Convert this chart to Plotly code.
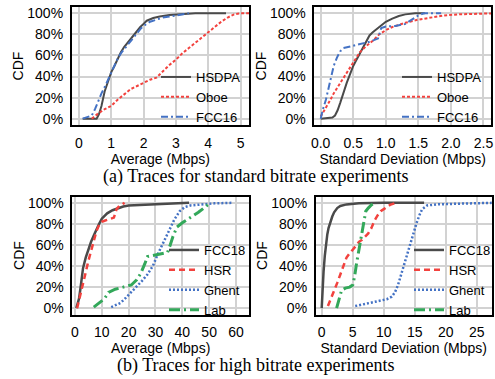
import plotly.graph_objects as go

# ---------- data ----------
# (a) standard bitrate: average throughput (Mbps)
hsdpa_avg_x = [0.12, 0.55, 0.62, 0.7, 0.8, 0.9, 1.0, 1.1, 1.2, 1.3, 1.4, 1.5, 1.6, 1.7, 1.8, 1.9, 2.0, 2.1, 2.3, 2.5, 2.8, 3.2, 3.6, 4.55]
hsdpa_avg_y = [0.0, 0.0, 0.04, 0.12, 0.26, 0.36, 0.44, 0.50, 0.57, 0.63, 0.68, 0.72, 0.75, 0.79, 0.84, 0.87, 0.90, 0.93, 0.955, 0.97, 0.985, 0.995, 1.0, 1.0]
oboe_avg_x = [0.4, 0.6, 0.8, 1.0, 1.2, 1.4, 1.6, 1.8, 2.0, 2.2, 2.4, 2.6, 2.8, 3.0, 3.2, 3.4, 3.6, 3.8, 4.0, 4.2, 4.4, 4.6, 4.8, 5.0, 5.3]
oboe_avg_y = [0.0, 0.05, 0.09, 0.12, 0.18, 0.23, 0.28, 0.31, 0.34, 0.37, 0.39, 0.45, 0.51, 0.56, 0.62, 0.67, 0.72, 0.77, 0.82, 0.87, 0.92, 0.96, 0.99, 1.0, 1.0]
fcc16_avg_x = [0.12, 0.4, 0.5, 0.6, 0.7, 0.8, 0.9, 1.0, 1.1, 1.2, 1.3, 1.4, 1.5, 1.6, 1.7, 1.8, 1.9, 2.0, 2.2, 2.4, 2.6, 2.8, 3.0, 3.4]
fcc16_avg_y = [0.0, 0.03, 0.09, 0.17, 0.24, 0.30, 0.37, 0.44, 0.51, 0.57, 0.62, 0.66, 0.70, 0.74, 0.78, 0.81, 0.85, 0.88, 0.92, 0.94, 0.96, 0.97, 0.98, 1.0]

# (a) standard bitrate: standard deviation (Mbps)
hsdpa_sd_x = [0.0, 0.18, 0.22, 0.26, 0.30, 0.35, 0.40, 0.45, 0.50, 0.55, 0.60, 0.65, 0.70, 0.75, 0.80, 0.90, 1.00, 1.10, 1.20, 1.30, 1.45, 1.6]
hsdpa_sd_y = [0.0, 0.01, 0.03, 0.08, 0.15, 0.25, 0.34, 0.42, 0.50, 0.56, 0.62, 0.67, 0.74, 0.79, 0.82, 0.87, 0.92, 0.95, 0.975, 0.99, 1.0, 1.0]
oboe_sd_x = [0.0, 0.05, 0.1, 0.15, 0.2, 0.3, 0.4, 0.5, 0.6, 0.7, 0.8, 0.9, 1.0, 1.1, 1.2, 1.3, 1.5, 1.7, 1.9, 2.1, 2.4, 2.65]
oboe_sd_y = [0.02, 0.07, 0.12, 0.18, 0.24, 0.34, 0.44, 0.54, 0.63, 0.69, 0.74, 0.80, 0.84, 0.87, 0.89, 0.91, 0.94, 0.96, 0.98, 0.99, 0.995, 1.0]
fcc16_sd_x = [0.0, 0.03, 0.08, 0.12, 0.16, 0.2, 0.25, 0.3, 0.35, 0.45, 0.6, 0.75, 0.88, 0.93, 1.0, 1.15, 1.3, 1.4, 1.5, 1.58, 1.85]
fcc16_sd_y = [0.0, 0.08, 0.18, 0.28, 0.40, 0.50, 0.58, 0.64, 0.67, 0.685, 0.71, 0.73, 0.76, 0.86, 0.875, 0.88, 0.90, 0.94, 0.98, 1.0, 1.0]

# (b) high bitrate: average throughput (Mbps)
fcc18_avg_x = [0.5, 1.0, 1.5, 2.0, 2.5, 3.0, 4.0, 5.0, 6.0, 7.0, 8.0, 9.0, 10.0, 11.0, 12.0, 14.0, 16.0, 18.0, 20.0, 25.0, 30.0, 35.0, 38.0, 42.5]
fcc18_avg_y = [0.0, 0.04, 0.09, 0.18, 0.30, 0.38, 0.48, 0.56, 0.63, 0.69, 0.75, 0.80, 0.85, 0.88, 0.90, 0.93, 0.95, 0.965, 0.975, 0.98, 0.99, 0.995, 1.0, 1.0]
hsr_avg_x = [0.8, 1.5, 2.0, 3.0, 4.0, 5.0, 6.0, 7.0, 8.0, 9.0, 10.0, 11.0, 13.0, 14.5, 15.0, 15.5, 16.5, 18.5]
hsr_avg_y = [0.0, 0.07, 0.12, 0.23, 0.34, 0.45, 0.55, 0.64, 0.73, 0.79, 0.82, 0.83, 0.85, 0.86, 0.90, 0.94, 0.97, 1.0]
ghent_avg_x = [13.5, 15, 17, 19, 21, 23, 25, 27, 29, 31, 33, 35, 37, 39, 41, 43, 47, 52, 58.5]
ghent_avg_y = [0.01, 0.025, 0.05, 0.1, 0.15, 0.21, 0.26, 0.32, 0.40, 0.52, 0.63, 0.73, 0.84, 0.92, 0.96, 0.975, 0.985, 0.995, 1.0]
lab_avg_x = [7, 9, 11, 12.5, 15, 18, 21, 23, 24.5, 26, 27, 29, 32, 34.5, 35.5, 36.5, 38, 40, 43, 46, 49.5]
lab_avg_y = [0.01, 0.05, 0.09, 0.15, 0.18, 0.20, 0.22, 0.27, 0.33, 0.42, 0.49, 0.50, 0.52, 0.53, 0.60, 0.68, 0.77, 0.81, 0.86, 0.91, 0.98]

# (b) high bitrate: standard deviation (Mbps)
fcc18_sd_x = [0.0, 0.1, 0.3, 0.5, 0.7, 0.9, 1.1, 1.4, 1.7, 2.0, 2.5, 3.0, 4.0, 6.0, 10.0, 16.5]
fcc18_sd_y = [0.0, 0.15, 0.35, 0.50, 0.62, 0.70, 0.76, 0.82, 0.87, 0.91, 0.95, 0.97, 0.985, 0.995, 1.0, 1.0]
hsr_sd_x = [1.0, 1.5, 2.0, 2.5, 3.0, 3.5, 4.0, 4.5, 5.0, 5.5, 6.0, 6.5, 7.0, 7.5, 8.0, 8.5, 9.0, 9.5, 10.0, 11.0, 12.0]
hsr_sd_y = [0.02, 0.09, 0.16, 0.24, 0.32, 0.41, 0.48, 0.52, 0.55, 0.59, 0.63, 0.65, 0.68, 0.71, 0.76, 0.83, 0.88, 0.92, 0.94, 0.98, 1.0]
ghent_sd_x = [5.4, 7.0, 9.0, 10.5, 11.3, 11.8, 12.3, 12.8, 13.3, 13.8, 14.3, 14.8, 15.3, 15.8, 16.2, 17.0, 18.5, 21.0, 24.0, 27.5]
ghent_sd_y = [0.02, 0.04, 0.065, 0.085, 0.11, 0.15, 0.22, 0.32, 0.42, 0.52, 0.62, 0.72, 0.81, 0.89, 0.94, 0.975, 0.985, 0.99, 0.995, 1.0]
lab_sd_x = [2.4, 2.8, 3.2, 3.8, 4.5, 5.0, 5.3, 5.6, 5.9, 6.2, 6.5, 6.8, 7.1, 7.5, 8.0, 8.6]
lab_sd_y = [0.0, 0.10, 0.17, 0.19, 0.20, 0.22, 0.30, 0.42, 0.52, 0.62, 0.72, 0.82, 0.92, 0.95, 0.98, 1.0]

y_ticks = [0, 0.2, 0.4, 0.6, 0.8, 1.0]
x_ticks_a_avg = [0, 1, 2, 3, 4, 5]
x_ticks_a_sd = [0.0, 0.5, 1.0, 1.5, 2.0, 2.5]
x_ticks_b_avg = [0, 10, 20, 30, 40, 50, 60]
x_ticks_b_sd = [0, 5, 10, 15, 20, 25]

caption_a = "(a) Traces for standard bitrate experiments"
caption_b = "(b) Traces for high bitrate experiments"

# ---------- styles ----------
GRAY = "#4a4a4a"
RED = "#f2423e"
BLUE = "#4472c4"
GREEN = "#33a85a"
FONT = "Liberation Sans, Arial, sans-serif"
SERIF = "Liberation Serif, Times New Roman, serif"

fig = go.Figure()

def add(x, y, name, color, dash, width, ax, leg):
    fig.add_trace(go.Scatter(
        x=x, y=y, name=name, mode="lines",
        line=dict(color=color, dash=dash, width=width),
        xaxis="x" + ax, yaxis="y" + ax, legend=leg,
    ))

# subplot 1 (top-left)
add(hsdpa_avg_x, hsdpa_avg_y, "HSDPA", GRAY, "solid", 2, "", "legend")
add(oboe_avg_x, oboe_avg_y, "Oboe", RED, "3px,2px", 2, "", "legend")
add(fcc16_avg_x, fcc16_avg_y, "FCC16", BLUE, "7px,3px,2px,3px", 2, "", "legend")
# subplot 2 (top-right)
add(hsdpa_sd_x, hsdpa_sd_y, "HSDPA", GRAY, "solid", 2, "2", "legend2")
add(oboe_sd_x, oboe_sd_y, "Oboe", RED, "3px,2px", 2, "2", "legend2")
add(fcc16_sd_x, fcc16_sd_y, "FCC16", BLUE, "7px,3px,2px,3px", 2, "2", "legend2")
# subplot 3 (bottom-left)
add(fcc18_avg_x, fcc18_avg_y, "FCC18", GRAY, "solid", 2.5, "3", "legend3")
add(hsr_avg_x, hsr_avg_y, "HSR", RED, "6px,4px", 2.5, "3", "legend3")
add(ghent_avg_x, ghent_avg_y, "Ghent", BLUE, "2px,2px", 2.5, "3", "legend3")
add(lab_avg_x, lab_avg_y, "Lab", GREEN, "11px,4px,2px,4px", 3, "3", "legend3")
# subplot 4 (bottom-right)
add(fcc18_sd_x, fcc18_sd_y, "FCC18", GRAY, "solid", 2.5, "4", "legend4")
add(hsr_sd_x, hsr_sd_y, "HSR", RED, "6px,4px", 2.5, "4", "legend4")
add(ghent_sd_x, ghent_sd_y, "Ghent", BLUE, "2px,2px", 2.5, "4", "legend4")
add(lab_sd_x, lab_sd_y, "Lab", GREEN, "11px,4px,2px,4px", 3, "4", "legend4")

W, H = 495, 379

def px_x(p):
    return p / W

def px_y(p):
    return 1 - p / H

axis_common = dict(
    showline=True, linecolor="black", linewidth=1.6, mirror=True,
    showgrid=True, gridcolor="#d2d2d2", gridwidth=1.5,
    zeroline=False, ticks="", ticklabelstandoff=4,
    tickfont=dict(family=FONT, size=14, color="black"),
)

def xaxis(dom, rng, ticks, title, fmt=None):
    d = dict(axis_common, domain=dom, range=rng, tickvals=ticks,
             title=dict(text=title, font=dict(family=FONT, size=14, color="black"), standoff=2))
    if fmt:
        d["tickformat"] = fmt
    return d

def yaxis(dom, anchor):
    return dict(axis_common, domain=dom, range=[-0.06, 1.06], tickvals=y_ticks, tickformat=".0%",
                anchor=anchor,
                title=dict(text="CDF", font=dict(family=FONT, size=14, color="black"), standoff=0))

top_dom = [px_y(125), px_y(7)]
bot_dom = [px_y(314.5), px_y(196.5)]

leg_common = dict(bgcolor="rgba(0,0,0,0)", borderwidth=0, xanchor="left", yanchor="top",
                  font=dict(family=FONT, size=13, color="black"), itemwidth=30, tracegroupgap=0)

fig.update_layout(
    width=W, height=H, margin=dict(l=0, r=0, t=0, b=0, autoexpand=False),
    paper_bgcolor="white", plot_bgcolor="white",
    font=dict(family=FONT, size=14, color="black"),
    xaxis=xaxis([px_x(71.7), px_x(249)], [-0.22, 5.26], x_ticks_a_avg, "Average (Mbps)"),
    yaxis=yaxis(top_dom, "x"),
    xaxis2=dict(xaxis([px_x(314.3), px_x(491)], [-0.098, 2.616], x_ticks_a_sd, "Standard Deviation (Mbps)", ".1f"), anchor="y2"),
    yaxis2=yaxis(top_dom, "x2"),
    xaxis3=dict(xaxis([px_x(72.3), px_x(249)], [-1.0, 64.85], x_ticks_b_avg, "Average (Mbps)"), anchor="y3"),
    yaxis3=yaxis(bot_dom, "x3"),
    xaxis4=dict(xaxis([px_x(315.7), px_x(491.7)], [-0.97, 27.4], x_ticks_b_sd, "Standard Deviation (Mbps)"), anchor="y4"),
    yaxis4=yaxis(bot_dom, "x4"),
    legend=dict(leg_common, x=px_x(156), y=px_y(62)),
    legend2=dict(leg_common, x=px_x(397), y=px_y(62)),
    legend3=dict(leg_common, x=px_x(164), y=px_y(235)),
    legend4=dict(leg_common, x=px_x(409), y=px_y(235)),
    showlegend=True,
    annotations=[
        dict(text=caption_a, xref="paper", yref="paper", x=px_x(255), y=px_y(176),
             xanchor="center", yanchor="middle", showarrow=False,
             font=dict(family=SERIF, size=18, color="black")),
        dict(text=caption_b, xref="paper", yref="paper", x=px_x(255), y=px_y(365),
             xanchor="center", yanchor="middle", showarrow=False,
             font=dict(family=SERIF, size=18, color="black")),
    ],
)

fig.write_html("out.html", config={"displayModeBar": False},
               post_script="document.body.style.margin='0';document.body.style.overflow='hidden';")
